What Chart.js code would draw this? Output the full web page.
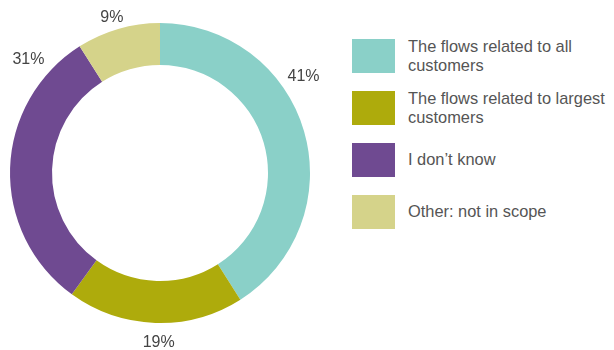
<!DOCTYPE html>
<html>
<head>
<meta charset="utf-8">
<script src="https://cdn.jsdelivr.net/npm/chart.js@4"></script>
<style>
  html, body { margin: 0; padding: 0; background: #fff; }
  #wrap { position: relative; width: 614px; height: 350px; font-family: "Liberation Sans", Arial, sans-serif; }
  #pie { position: absolute; left: 0; top: 0; width: 330px; height: 350px; }
  #legend { position: absolute; left: 352px; top: 39px; width: 262px; }
  .item { display: flex; align-items: center; height: 34px; margin-bottom: 18px; }
  .swatch { width: 43px; height: 34px; flex: none; }
  .text { margin-left: 13px; font-size: 16.4px; line-height: 19.5px; color: #555; }
</style>
</head>
<body>
<div id="wrap">
  <div id="pie"><canvas id="chart"></canvas></div>
  <div id="legend"></div>
</div>
<script>
const labels = [
  ['The flows related to all', 'customers'],
  ['The flows related to largest', 'customers'],
  ['I don\u2019t know'],
  ['Other: not in scope']
];
const shares = [41, 19, 31, 9];
const colors = ['#8ad0c8', '#aeab0c', '#6f4a91', '#d5d38a'];

// where each percentage sits along its slice, and how far outside the ring
const labelSpots = [
  { along: 0.38, gap: 23 },
  { along: 0.48, gap: 20 },
  { along: 0.85, gap: 24 },
  { along: 0.47, gap: 13 }
];

const outsideLabels = {
  id: 'outsideLabels',
  afterDraw(chart) {
    const ctx = chart.ctx;
    const meta = chart.getDatasetMeta(0);
    ctx.save();
    ctx.font = '16px "Liberation Sans", Arial, sans-serif';
    ctx.fillStyle = '#444';
    ctx.textAlign = 'center';
    ctx.textBaseline = 'middle';
    meta.data.forEach((arc, i) => {
      const p = arc.getProps(['x', 'y', 'startAngle', 'endAngle', 'outerRadius'], true);
      const spot = labelSpots[i];
      const a = p.startAngle + (p.endAngle - p.startAngle) * spot.along;
      const r = p.outerRadius + spot.gap;
      ctx.fillText(shares[i] + '%', p.x + Math.cos(a) * r, p.y + Math.sin(a) * r);
    });
    ctx.restore();
  }
};

new Chart(document.getElementById('chart'), {
  type: 'doughnut',
  data: {
    labels: labels.map(l => l.join(' ')),
    datasets: [{
      data: shares,
      backgroundColor: colors,
      hoverBackgroundColor: colors,
      borderWidth: 0
    }]
  },
  options: {
    responsive: true,
    maintainAspectRatio: false,
    animation: false,
    cutout: '72%',
    layout: { padding: { left: 10, right: 20, top: 23, bottom: 27 } },
    plugins: {
      legend: { display: false },
      tooltip: { enabled: false }
    }
  },
  plugins: [outsideLabels]
});

// legend on the right, built from the same arrays
const legend = document.getElementById('legend');
labels.forEach((lines, i) => {
  const item = document.createElement('div');
  item.className = 'item';
  const sw = document.createElement('div');
  sw.className = 'swatch';
  sw.style.background = colors[i];
  const tx = document.createElement('div');
  tx.className = 'text';
  tx.innerHTML = lines.join('<br>');
  item.appendChild(sw);
  item.appendChild(tx);
  legend.appendChild(item);
});
</script>
</body>
</html>
